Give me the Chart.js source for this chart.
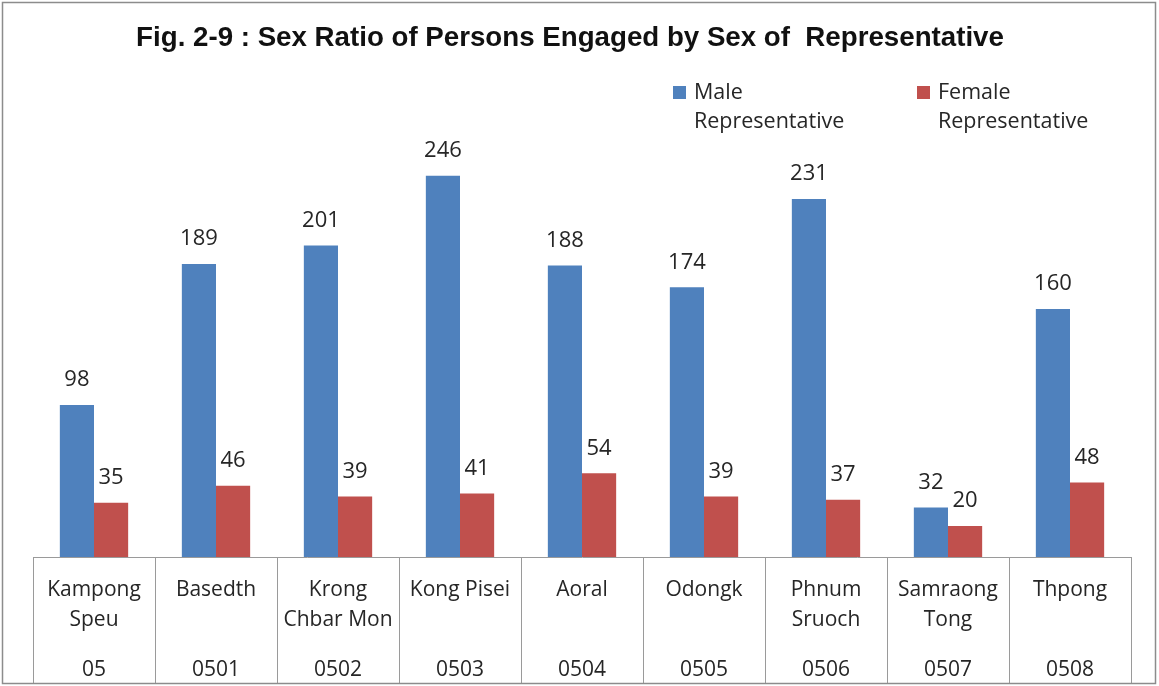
<!DOCTYPE html>
<html>
<head>
<meta charset="utf-8">
<script src="https://cdn.jsdelivr.net/npm/chart.js@4"></script>
<style>
  html, body { margin: 0; padding: 0; background: #fff; }
  #wrap { position: relative; width: 1159px; height: 686px; }
</style>
</head>
<body>
<div id="wrap"><canvas id="sexRatioChart" width="1159" height="686"></canvas></div>
<script>
// Data
const districts = [
  ["Kampong", "Speu"], ["Basedth"], ["Krong", "Chbar Mon"], ["Kong Pisei"], ["Aoral"],
  ["Odongk"], ["Phnum", "Sruoch"], ["Samraong", "Tong"], ["Thpong"]
];
const codes = ["05", "0501", "0502", "0503", "0504", "0505", "0506", "0507", "0508"];
const maleRep = [98, 189, 201, 246, 188, 174, 231, 32, 160];
const femaleRep = [35, 46, 39, 41, 54, 39, 37, 20, 48];
const seriesNames = [["Male", "Representative"], ["Female", "Representative"]];
const titleText = "Fig. 2-9 : Sex Ratio of Persons Engaged by Sex of  Representative";

const BLUE = "#4f81bd";
const RED = "#c0504d";
const FONT = "'Open Sans', 'Noto Sans', sans-serif";
const TEXT = "#262626";

// Title, frame, legend, value labels and the code row under the names
const decorations = {
  id: "decorations",
  afterDatasetsDraw(chart) {
    const c = chart.ctx;
    c.save();

    // title (sits a little left of the plot centre, as in the figure)
    c.font = "bold 27.7px 'Liberation Sans', Arial, sans-serif";
    c.fillStyle = "#111";
    c.textAlign = "center";
    c.textBaseline = "middle";
    c.fillText(titleText, 570, 38);

    // value labels above each bar
    c.font = "22px " + FONT;
    c.fillStyle = TEXT;
    chart.data.datasets.forEach((ds, di) => {
      chart.getDatasetMeta(di).data.forEach((bar, i) => {
        c.fillText(String(ds.data[i]), bar.x, bar.y - 25);
      });
    });

    // second row of the category table: district codes
    c.font = "21px " + FONT;
    const xs = chart.scales.x;
    codes.forEach((code, i) => {
      c.fillText(code, xs.getPixelForTick(i), 670);
    });

    // legend (two lines per entry)
    const items = [
      { x: 673, color: BLUE, lines: seriesNames[0] },
      { x: 917, color: RED, lines: seriesNames[1] }
    ];
    c.font = "21.5px " + FONT;
    c.textAlign = "left";
    items.forEach((it) => {
      c.fillStyle = it.color;
      c.fillRect(it.x, 86, 13, 13);
      c.fillStyle = TEXT;
      c.fillText(it.lines[0], it.x + 21, 93);
      c.fillText(it.lines[1], it.x + 21, 122);
    });

    // chart border
    c.strokeStyle = "#8c8c8c";
    c.lineWidth = 1.5;
    c.strokeRect(2.5, 2.5, 1153, 681);
    c.restore();
  }
};

new Chart(document.getElementById("sexRatioChart"), {
  type: "bar",
  data: {
    labels: districts,
    datasets: [
      {
        label: seriesNames[0].join(" "),
        data: maleRep,
        backgroundColor: BLUE,
        categoryPercentage: 0.56,
        barPercentage: 1.0
      },
      {
        label: seriesNames[1].join(" "),
        data: femaleRep,
        backgroundColor: RED,
        categoryPercentage: 0.56,
        barPercentage: 1.0
      }
    ]
  },
  options: {
    responsive: false,
    animation: false,
    layout: {
      padding: { top: 92, left: 33, right: 28, bottom: 2 }
    },
    scales: {
      x: {
        grid: {
          offset: true,
          drawOnChartArea: false,
          drawTicks: true,
          tickLength: 127,
          color: "#9a9a9a",
          lineWidth: 1
        },
        border: { display: true, color: "#9a9a9a", width: 1 },
        ticks: {
          autoSkip: false,
          maxRotation: 0,
          padding: -109,
          color: TEXT,
          font: { family: FONT, size: 21, lineHeight: 1.43 }
        },
        afterFit(scale) {
          scale.height = 127;
        }
      },
      y: {
        display: false,
        min: 0,
        max: 300
      }
    },
    plugins: {
      legend: { display: false },
      tooltip: { enabled: false },
      title: { display: false }
    }
  },
  plugins: [decorations]
});
</script>
</body>
</html>
